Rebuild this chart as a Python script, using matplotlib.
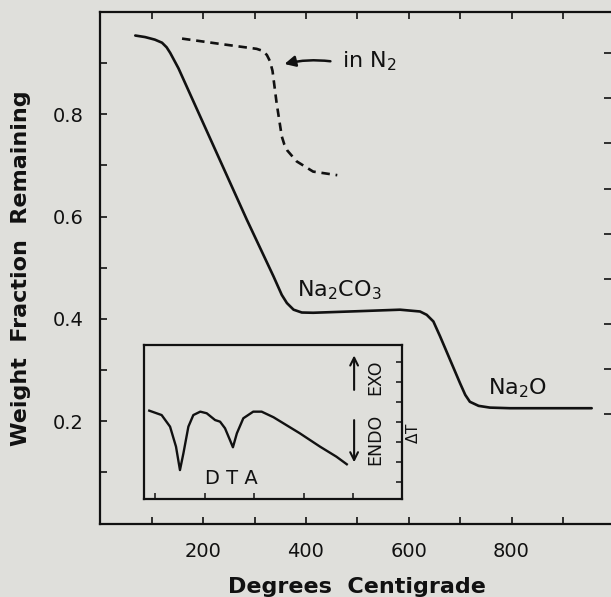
import matplotlib
matplotlib.use("Agg")
import matplotlib.pyplot as plt

# ---- data ----
air_temp = [68, 87, 106, 120, 129, 136, 152, 285, 337, 353, 363, 376, 392, 414,
            500, 583, 622, 635, 648, 661, 700, 710, 719, 736, 758, 797, 956]
air_frac = [0.954, 0.951, 0.946, 0.940, 0.931, 0.920, 0.890, 0.594, 0.483, 0.447, 0.431, 0.418, 0.4125, 0.412,
            0.415, 0.418, 0.4145, 0.408, 0.395, 0.366, 0.274, 0.2515, 0.238, 0.230, 0.2266, 0.2254, 0.2254]

n2_temp = [159, 230, 304, 316, 324, 330, 335, 343, 353, 358, 364, 382, 414, 461]
n2_frac = [0.948, 0.938, 0.928, 0.924, 0.916, 0.904, 0.885, 0.822, 0.757, 0.741, 0.729, 0.708, 0.688, 0.681]

dta_temp = [88, 113, 130, 142, 150, 157, 167, 177, 191, 204, 221, 231, 241, 251, 257, 265, 278, 298, 315, 339, 392, 433, 466, 487]
dta_dT = [3.55, 3.33, 2.75, 1.75, 0.58, 1.42, 2.75, 3.33, 3.5, 3.42, 3.08, 3.0, 2.67, 2.08, 1.72, 2.42, 3.17, 3.5, 3.5, 3.22, 2.42, 1.75, 1.25, 0.87]

x_ticks = [100, 200, 300, 400, 500, 600, 700, 800, 900]
x_labels = [200, 400, 600, 800]
y_ticks = [0.1, 0.2, 0.3, 0.4, 0.5, 0.6, 0.7, 0.8, 0.9]
y_labels = [0.2, 0.4, 0.6, 0.8]
inset_x_ticks = [100, 200, 300, 400, 500]

BG = "#dfdfdb"
INK = "#111111"
plt.rcParams["font.family"] = ["DejaVu Sans"]
plt.rcParams["mathtext.fontset"] = "dejavusans"

fig = plt.figure(figsize=(6.11, 5.97), dpi=100)
fig.patch.set_facecolor(BG)

ax = fig.add_axes([0.1642, 0.1231, 0.8412, 0.8568])
ax.set_facecolor(BG)
ax.set_xlim(0, 1000)
ax.set_ylim(0, 1.0)
for s in ax.spines.values():
    s.set_linewidth(1.6)
    s.set_color(INK)

ax.plot(air_temp, air_frac, color=INK, lw=1.9, solid_capstyle="round", solid_joinstyle="round")
ax.plot(n2_temp, n2_frac, color=INK, lw=1.9, linestyle=(0, (3.2, 2.2)))

# ticks
ax.set_xticks(x_ticks)
ax.set_xticklabels([str(t) if t in x_labels else "" for t in x_ticks])
ax.set_yticks(y_ticks)
ax.set_yticklabels([f"{t:.1f}" if any(abs(t - v) < 1e-9 for v in y_labels) else "" for t in y_ticks])
ax.tick_params(axis="x", direction="in", length=5, width=1.2, top=True, pad=13,
               labelsize=14, colors=INK)
ax.tick_params(axis="y", direction="in", length=5, width=1.2, pad=12, labelsize=14, colors=INK)

twin = ax.twinx()
twin.set_ylim(-2.42, 8.91)
twin.set_yticks(range(0, 9))
twin.set_yticklabels([])
twin.tick_params(axis="y", direction="in", length=7, width=1.2, colors=INK)
for s in ["top", "bottom", "left", "right"]:
    twin.spines[s].set_visible(False)

ax.set_xlabel("Degrees  Centigrade", fontsize=16, fontweight="bold", labelpad=12, color=INK)
ax.set_ylabel("Weight  Fraction  Remaining", fontsize=16, fontweight="bold", labelpad=16, color=INK)

# annotations
ax.text(382, 0.444, r"Na$_2$CO$_3$", fontsize=16, va="baseline", ha="left", color=INK)
ax.text(755, 0.253, r"Na$_2$O", fontsize=16, va="baseline", ha="left", color=INK)
ax.text(470, 0.891, r"in N$_2$", fontsize=16, va="baseline", ha="left", color=INK)
ax.annotate("", xy=(353, 0.897), xytext=(453, 0.903),
            arrowprops=dict(arrowstyle="-|>", color=INK, lw=1.8, mutation_scale=16,
                            connectionstyle="arc3,rad=0.1"))

# inset DTA
ins = fig.add_axes([0.2362, 0.1642, 0.4213, 0.258])
ins.set_facecolor(BG)
ins.set_xlim(78, 598)
ins.set_ylim(-0.865, 6.835)
for s in ins.spines.values():
    s.set_linewidth(1.6)
    s.set_color(INK)
ins.plot(dta_temp, dta_dT, color=INK, lw=1.7, solid_joinstyle="round")
ins.set_xticks(inset_x_ticks)
ins.set_xticklabels([])
ins.set_yticks(range(0, 7))
ins.set_yticklabels([])
ins.tick_params(axis="x", direction="in", length=4, width=1.1, colors=INK)
ins.tick_params(axis="y", direction="in", length=4, width=1.1, left=False, right=True, colors=INK)
ins.text(0.337, 0.134, "D T A", transform=ins.transAxes, fontsize=14, ha="center", va="center", color=INK)
ins.annotate("", xy=(0.815, 0.95), xytext=(0.815, 0.69), xycoords="axes fraction",
             arrowprops=dict(arrowstyle="->", color=INK, lw=1.5, mutation_scale=14))
ins.annotate("", xy=(0.815, 0.22), xytext=(0.815, 0.53), xycoords="axes fraction",
             arrowprops=dict(arrowstyle="->", color=INK, lw=1.5, mutation_scale=14))
ins.text(0.896, 0.79, "EXO", transform=ins.transAxes, rotation=90, fontsize=12.5,
         ha="center", va="center", color=INK)
ins.text(0.896, 0.39, "ENDO", transform=ins.transAxes, rotation=90, fontsize=12.5,
         ha="center", va="center", color=INK)
ins.text(1.045, 0.43, r"$\Delta$T", transform=ins.transAxes, rotation=90, fontsize=11,
         ha="center", va="center", color=INK)

fig.savefig("out.png", dpi=100, facecolor=BG)
